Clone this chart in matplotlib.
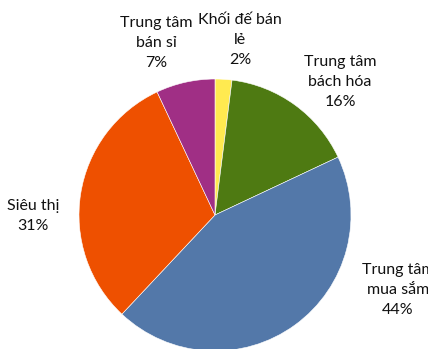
import matplotlib.pyplot as plt

labels = ["Khối đế bán\nlẻ", "Trung tâm\nbách hóa", "Trung tâm\nmua sắm", "Siêu thị", "Trung tâm\nbán sỉ"]
shares = [2, 16, 44, 31, 7]
colors = ["#FFEA50", "#4E7A12", "#5378A9", "#EE5000", "#A02F85"]

# label centres in pixel coords (x, y from top)
label_pos = [(240, 40), (340, 82), (398, 290), (33, 216), (156, 43)]

W, H = 428, 349
fig = plt.figure(figsize=(W / 100, H / 100), dpi=100)
ax = fig.add_axes([0, 0, 1, 1])
ax.set_xlim(0, W)
ax.set_ylim(0, H)
ax.set_aspect('equal')
ax.axis('off')

cx, cy, r = 215, H - 215, 136
ax.pie(shares, colors=colors, startangle=90, counterclock=False,
       center=(cx, cy), radius=r, frame=True,
       wedgeprops=dict(edgecolor='white', linewidth=0.4))
ax.set_xlim(0, W)
ax.set_ylim(0, H)
ax.axis('off')

# the right-hand label runs past the edge in the original too
for lab, v, (px, py) in zip(labels, shares, label_pos):
    ax.text(px, H - py, "%s\n%d%%" % (lab, v), ha='center', va='center',
            fontsize=11.5, family='Lato', linespacing=1.55, color='#111111')

fig.savefig('out.png', dpi=100)
